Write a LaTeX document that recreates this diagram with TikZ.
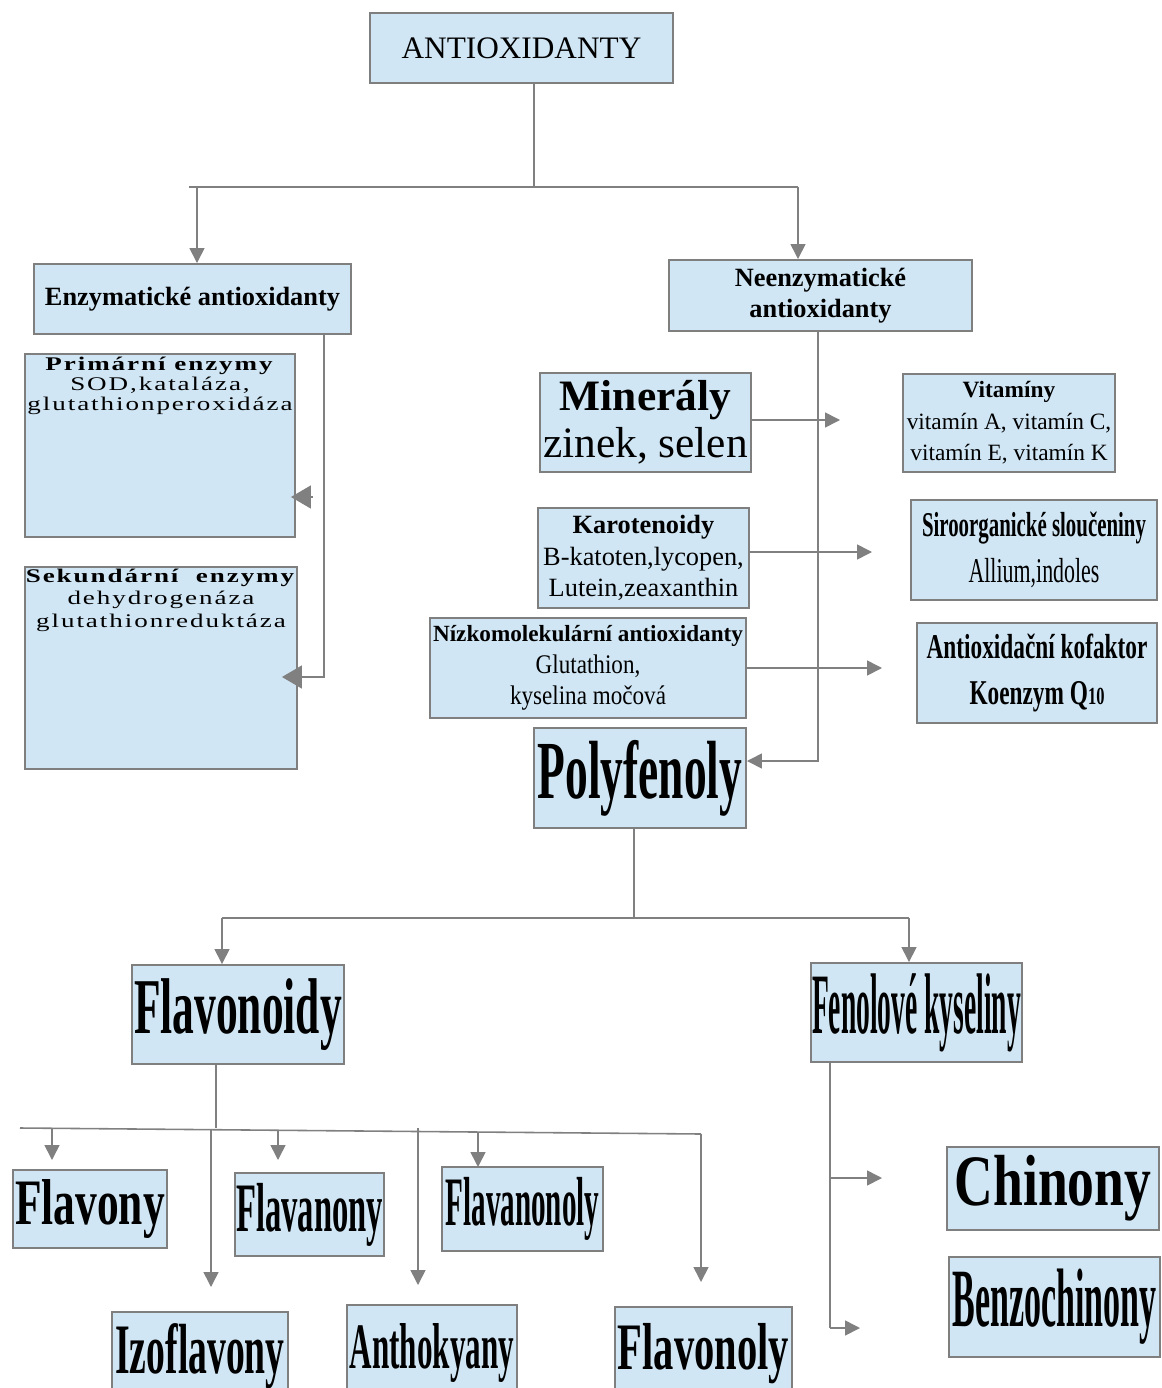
\documentclass[tikz,border=0pt]{standalone}
\usepackage{fontspec}
\setmainfont{Liberation Serif}
\newfontfamily\spacedfont[LetterSpace=10,FakeStretch=1.4]{Liberation Serif}
\usepackage{graphicx}
\usetikzlibrary{arrows.meta}
\definecolor{boxfill}{HTML}{D0E6F4}
\definecolor{boxline}{HTML}{7F7F7F}
\definecolor{linkgray}{HTML}{808080}
\newcommand{\squeeze}[2]{\scalebox{#1}[1]{#2}}
\newcommand{\fsz}[2]{\fontsize{#1}{#2}\selectfont}
\tikzset{
  box/.style={draw=boxline,fill=boxfill,line width=1.1pt,inner sep=0pt,align=center},
  boxsize/.style 2 args={minimum width=#1*0.02cm,minimum height=#2*0.02cm},
  link/.style={draw=linkgray,line width=0.9pt},
  arrow/.style={link,-{Triangle[length=0.3cm,width=0.3cm]}},
  bigarrow/.style={link,-{Triangle[length=0.4cm,width=0.46cm]}}
}

\begin{document}
\begin{tikzpicture}[x=0.02cm,y=-0.02cm]
  \useasboundingbox (0,0) rectangle (1161,1388);
  % top and the two main groups
  \node[box,boxsize={303}{70},font=\fsz{17.8}{20}] (anti) at (521.5,48) {ANTIOXIDANTY};
  \node[box,boxsize={317}{70},font=\fsz{15}{17.6}\bfseries] (enz) at (192.5,299) {Enzymatické antioxidanty};
  \node[box,boxsize={303}{71},font=\fsz{15}{17.6}\bfseries] (neenz) at (820.5,295.5) {Neenzymatické\\antioxidanty};
  % enzymes
  \node[box,font=\spacedfont\fsz{11}{11.3}] (prim) at (160,445.5) {\begin{minipage}[t][3.66cm][t]{5.4cm}\vspace*{2pt}\centering
    \textbf{Primární enzymy}\\SOD,kataláza,\\glutathionperoxidáza\end{minipage}};
  \node[box,font=\spacedfont\fsz{11}{12.8}] (sek) at (161,668) {\begin{minipage}[t][4.04cm][t]{5.44cm}\vspace*{1pt}\centering
    \textbf{Sekundární\ \ enzymy}\\dehydrogenáza\\glutathionreduktáza\end{minipage}};
  % non-enzymatic ones
  \node[box,boxsize={211}{99},font=\fsz{24.7}{26.6}] (min) at (645.5,422.5) {\textbf{Minerály}\\zinek, selen};
  \node[box,boxsize={212}{98},font=\fsz{13.3}{18}] (vit) at (1009,423) {\textbf{Vitamíny}\\vitamín A, vitamín C,\\vitamín E, vitamín K};
  \node[box,boxsize={211}{100},font=\fsz{15}{17.9}] (karo) at (643.5,558) {\textbf{Karotenoidy}\\B-katoten,lycopen,\\Lutein,zeaxanthin};
  \node[box,boxsize={246}{100},font=\fsz{19.8}{26.6}] (siro) at (1034,550) {\squeeze{0.6}{\textbf{Siroorganické sloučeniny}}\\\squeeze{0.63}{Allium,indoles}};
  \node[box,boxsize={316}{100},font=\fsz{15.3}{18}] (nizko) at (588,668) {{\fsz{13.2}{18}\bfseries Nízkomolekulární antioxidanty}\\\squeeze{0.86}{Glutathion,}\\\squeeze{0.86}{kyselina močová}};
  \node[box,boxsize={240}{100},font=\fsz{19.8}{26}\bfseries] (kofa) at (1037,673) {\squeeze{0.67}{Antioxidační kofaktor}\\\squeeze{0.67}{Koenzym Q{\fsz{14}{26}10}}};
  % polyphenols
  \node[box,boxsize={212}{100},font=\fsz{47}{50}\bfseries] (poly) at (640,778) {\squeeze{0.55}{Polyfenoly}};
  \node[box,boxsize={212}{99},font=\fsz{45}{50}\bfseries] (flavd) at (238,1014.5) {\squeeze{0.55}{Flavonoidy}};
  \node[box,boxsize={211}{99},font=\fsz{49}{50}\bfseries] (fenol) at (916.5,1012.5) {\squeeze{0.32}{Fenolové kyseliny}};
  % flavonoid classes
  \node[box,boxsize={154}{78},font=\fsz{36.9}{40}\bfseries] (flavony) at (90,1209) {\squeeze{0.67}{Flavony}};
  \node[box,boxsize={149}{83},font=\fsz{39.5}{40}\bfseries] (flavanony) at (309.5,1214.5) {\squeeze{0.47}{Flavanony}};
  \node[box,boxsize={161}{84},font=\fsz{39.5}{40}\bfseries] (flavanonoly) at (522.5,1209) {\squeeze{0.42}{Flavanonoly}};
  \node[box,boxsize={176}{88},font=\fsz{40.4}{40}\bfseries] (izo) at (200,1356) {\squeeze{0.53}{Izoflavony}};
  \node[box,boxsize={170}{95},font=\fsz{36.9}{40}\bfseries] (antho) at (432,1352.5) {\squeeze{0.48}{Anthokyany}};
  \node[box,boxsize={177}{93},font=\fsz{37.8}{40}\bfseries] (flavol) at (703.5,1353.5) {\squeeze{0.61}{Flavonoly}};
  % phenolic acid classes
  \node[box,boxsize={212}{83},font=\fsz{41.2}{44}\bfseries] (chin) at (1053,1188.5) {\squeeze{0.74}{Chinony}};
  \node[box,boxsize={211}{100},font=\fsz{47.2}{50}\bfseries] (benz) at (1054.5,1307) {\squeeze{0.41}{Benzochinony}};

  % connectors from the top
  \coordinate (j0) at (534,187);
  \coordinate (jl) at (189,187);
  \coordinate (jr) at (798,187);
  \coordinate (je) at (197,187);
  \draw[link] (anti.south -| j0) -- (j0);
  \draw[link] (jl) -- (jr);
  \draw[arrow] (je) -- (je |- enz.north);
  \draw[arrow] (jr) -- (jr |- neenz.north);
  % enzymatic side
  \coordinate (e1) at (324,677);
  \coordinate (e2) at (313,497);
  \draw[bigarrow,shorten >=-0.32cm] (enz.south -| e1) -- (e1) -- (e1 -| sek.east);
  \draw[bigarrow,shorten >=-0.1cm] (e2) -- (e2 -| prim.east);
  % non-enzymatic side
  \coordinate (n1) at (818,761);
  \coordinate (m1) at (840,420);
  \coordinate (k1) at (872,552);
  \coordinate (z1) at (882,668);
  \draw[arrow] (neenz.south -| n1) -- (n1) -- (n1 -| poly.east);
  \draw[arrow] (min.east |- m1) -- (m1);
  \draw[arrow] (karo.east |- k1) -- (k1);
  \draw[arrow] (nizko.east |- z1) -- (z1);
  % polyphenols
  \coordinate (p0) at (634,918);
  \coordinate (pl) at (222,918);
  \coordinate (pr) at (909,918);
  \draw[link] (poly.south -| p0) -- (p0);
  \draw[link] (pl) -- (pr);
  \draw[arrow] (pl) -- (pl |- flavd.north);
  \draw[arrow] (pr) -- (pr |- fenol.north);
  % flavonoids
  \coordinate (v0) at (216,1128);
  \coordinate (vl) at (20,1128);
  \coordinate (vr) at (701,1134);
  \draw[link] (flavd.south -| v0) -- (v0);
  \draw[link] (vl) -- (vr);
  \foreach \x/\ya/\yb [count=\i] in {52/1128/1160,211/1129/1287,278/1130/1160,418/1128/1285,478/1132/1167,701/1134/1282}{
    \coordinate (va\i) at (\x,\ya);
    \coordinate (vb\i) at (\x,\yb);
    \draw[arrow] (va\i) -- (vb\i);
  }
  % phenolic acids
  \coordinate (f1) at (830,1178);
  \coordinate (f2) at (830,1328);
  \coordinate (f1e) at (882,1178);
  \coordinate (f2e) at (860,1328);
  \draw[link] (fenol.south -| f2) -- (f2);
  \draw[arrow] (f1) -- (f1e);
  \draw[arrow] (f2) -- (f2e);
\end{tikzpicture}
\end{document}
